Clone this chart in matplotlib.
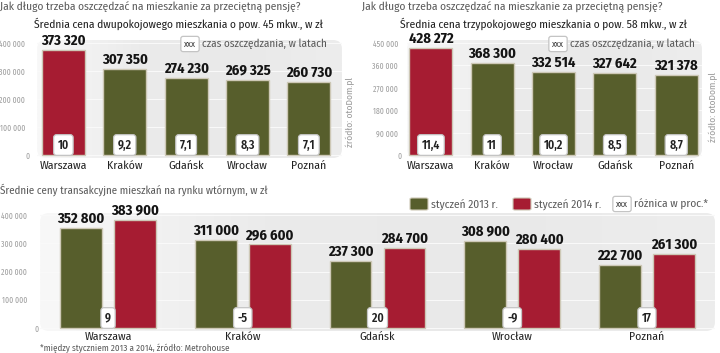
import matplotlib.pyplot as plt
import numpy as np
from matplotlib.patches import FancyBboxPatch
from matplotlib.colors import LinearSegmentedColormap
from matplotlib.transforms import ScaledTranslation, blended_transform_factory

W, H = 720, 353
plt.rcParams['font.family'] = ['Fira Sans Condensed', 'DejaVu Sans']
NARROW = ['Fira Sans Extra Condensed', 'Fira Sans Condensed', 'DejaVu Sans']

GREEN = '#575e2c'
RED = '#a61c32'

# dane
cities_2pok = ['Warszawa', 'Kraków', 'Gdańsk', 'Wrocław', 'Poznań']
price_2pok = [373320, 307350, 274230, 269325, 260730]
years_2pok = ['10', '9,2', '7,1', '8,3', '7,1']

cities_3pok = ['Warszawa', 'Kraków', 'Wrocław', 'Gdańsk', 'Poznań']
price_3pok = [428272, 368300, 332514, 327642, 321378]
years_3pok = ['11,4', '11', '10,2', '8,5', '8,7']

cities_rynek = ['Warszawa', 'Kraków', 'Gdańsk', 'Wrocław', 'Poznań']
price_2013 = [352800, 311000, 237300, 308900, 222700]
price_2014 = [383900, 296600, 284700, 280400, 261300]
diff_pct = ['9', '-5', '20', '-9', '17']

ticks_top1 = [0, 100000, 200000, 300000, 400000]
ticks_top2 = [0, 90000, 180000, 270000, 360000, 450000]
ticks_bottom = [0, 100000, 200000, 300000, 400000]


def fmt(v):
    return f'{v:,}'.replace(',', ' ')


def rect(x0, y0, x1, y1):
    return [x0 / W, 1 - y1 / H, (x1 - x0) / W, (y1 - y0) / H]


def fx(x):
    return x / W


def fy(y):
    return 1 - y / H


fig = plt.figure(figsize=(7.2, 3.53), dpi=100)
bg_cmap = LinearSegmentedColormap.from_list('bg', ['#f8f8f8', '#ebebeb', '#e9e9e9', '#ededed'])
box_style = dict(boxstyle='round,pad=0.35,rounding_size=0.25', fc='white', ec='#c4c4c4', lw=0.9)
GREY_TXT = '#5a5a5a'


def make_axes(r, ylim, yticks, pad, xlim, zero_shift):
    ax = fig.add_axes(r)
    ax.set_facecolor('none')
    for s in ax.spines.values():
        s.set_visible(False)
    w_px, h_px = r[2] * W, r[3] * H
    bg = FancyBboxPatch((0, 0), 1, 1, boxstyle=f'round,pad=0,rounding_size={9 / w_px}',
                        mutation_aspect=w_px / h_px, transform=ax.transAxes,
                        fc='none', ec='none')
    ax.add_patch(bg)
    grad = np.linspace(0, 1, 256).reshape(1, -1)
    im = ax.imshow(grad, cmap=bg_cmap, extent=(0, 1, 0, 1), transform=ax.transAxes,
                   aspect='auto', zorder=0)
    im.set_clip_path(bg)
    ax.set_yticks(yticks, [fmt(t) for t in yticks])
    ax.tick_params(axis='y', length=0, pad=pad, labelsize=6, labelcolor='#a0a0a0')
    ax.tick_params(axis='x', length=0, labelsize=8.4, labelcolor='#222222')
    ax.yaxis.grid(True, color='#f9f9f9', lw=0.8, zorder=0.5)
    ax.set_axisbelow(True)
    ax.set_xlim(*xlim)
    ax.set_ylim(*ylim)
    for lbl in ax.get_yticklabels():
        lbl.set_family(NARROW)
        if lbl.get_text() == '0':
            lbl.set_transform(lbl.get_transform() +
                              ScaledTranslation(zero_shift / 100, 0, fig.dpi_scale_trans))
    return ax


def value_labels(ax, xs, vals):
    for x, v in zip(xs, vals):
        ax.annotate(fmt(v), (x, v), xytext=(0, 1.5), textcoords='offset points',
                    ha='center', va='bottom', fontsize=10.5, fontweight='bold', color='#141414')


def box_labels(ax, xs, labels):
    tr = blended_transform_factory(ax.transData, ax.transAxes)
    for x, t in zip(xs, labels):
        ax.text(x, 0.11, t, transform=tr, ha='center', va='center', fontsize=8.5,
                fontweight='semibold', color='#222222', bbox=box_style, zorder=5)


# panel 1 - dwupokojowe
ax1 = make_axes(rect(37, 40, 342, 158), (-10700, 410700), ticks_top1, 8.6, (-0.43, 4.54), 5)
x1 = np.arange(len(cities_2pok))
ax1.bar(x1, price_2pok, width=0.7, color=[RED] + [GREEN] * 4, edgecolor='#cdc8b6', lw=1, zorder=2)
ax1.set_xticks(x1, cities_2pok)
ax1.tick_params(axis='x', pad=2)
value_labels(ax1, x1, price_2pok)
box_labels(ax1, x1, years_2pok)

# panel 2 - trzypokojowe
ax2 = make_axes(rect(407, 40, 702, 158), (-12000, 462000), ticks_top2, 6.5, (-0.39, 4.42), 4)
x2 = np.arange(len(cities_3pok))
ax2.bar(x2, price_3pok, width=0.7, color=[RED] + [GREEN] * 4, edgecolor='#cdc8b6', lw=1, zorder=2)
ax2.set_xticks(x2, cities_3pok)
ax2.tick_params(axis='x', pad=2)
value_labels(ax2, x2, price_3pok)
box_labels(ax2, x2, years_3pok)

# panel 3 - rynek wtorny
ax3 = make_axes(rect(40, 213, 715, 331), (-10600, 407100), ticks_bottom, 9.4, (-0.505, 4.505), 12)
x3 = np.arange(len(cities_rynek))
ax3.bar(x3 - 0.2, price_2013, width=0.31, color=GREEN, edgecolor='#cdc8b6', lw=1, zorder=2)
ax3.bar(x3 + 0.2, price_2014, width=0.31, color=RED, edgecolor='#cdc8b6', lw=1, zorder=2)
ax3.set_xticks(x3, cities_rynek)
ax3.tick_params(axis='x', pad=0.5)
value_labels(ax3, x3 - 0.2, price_2013)
value_labels(ax3, x3 + 0.2, price_2014)
box_labels(ax3, x3, diff_pct)

# teksty
q = 'Jak długo trzeba oszczędzać na mieszkanie za przeciętną pensję?'
fig.text(fx(0), fy(7), q, va='center', fontsize=8.2, color=GREY_TXT)
fig.text(fx(362), fy(7), q, va='center', fontsize=8.2, color=GREY_TXT)
fig.text(fx(178), fy(24), 'Średnia cena dwupokojowego mieszkania o pow. 45 mkw., w zł',
         ha='center', va='center', fontsize=8.2, color='#1e1e1e')
fig.text(fx(544), fy(24), 'Średnia cena trzypokojowego mieszkania o pow. 58 mkw., w zł',
         ha='center', va='center', fontsize=8.2, color='#1e1e1e')
for bx, tx in [(190, 202), (558, 570)]:
    fig.text(fx(bx), fy(44), 'xxx', ha='center', va='center', fontsize=6.5, color='#333333',
             bbox=box_style)
    fig.text(fx(tx), fy(44), 'czas oszczędzania, w latach', va='center', fontsize=8,
             color=GREY_TXT)
fig.text(fx(350), fy(112), 'źródło: otoDom.pl', rotation=90, ha='center', va='center',
         fontsize=6.8, color='#9a9a9a')
fig.text(fx(713), fy(107), 'źródło: otoDom.pl', rotation=90, ha='center', va='center',
         fontsize=6.8, color='#9a9a9a')

fig.text(fx(0), fy(190), 'Średnie ceny transakcyjne mieszkań na rynku wtórnym, w zł',
         va='center', fontsize=7.9, color=GREY_TXT)
fig.text(fx(40), fy(348), '*między styczniem 2013 a 2014, źródło: Metrohouse',
         va='center', fontsize=6.5, color=GREY_TXT)

# legenda
for x0, c, lab in [(410, GREEN, 'styczeń 2013 r.'), (513, RED, 'styczeń 2014 r.')]:
    fig.patches.append(FancyBboxPatch((fx(x0), fy(210)), 18 / W, 12 / H,
                                      boxstyle='round,pad=0,rounding_size=0.003',
                                      transform=fig.transFigure, fc=c, ec='#cdc8b6', lw=0.8))
    fig.text(fx(x0 + 21), fy(204), lab, va='center', fontsize=8.2, color=GREY_TXT)
fig.text(fx(622), fy(204), 'xxx', ha='center', va='center', fontsize=6.5, color='#333333',
         bbox=box_style)
fig.text(fx(634), fy(204), 'różnica w proc.*', va='center', fontsize=8.2, color=GREY_TXT)

fig.savefig('out.png', dpi=100)
